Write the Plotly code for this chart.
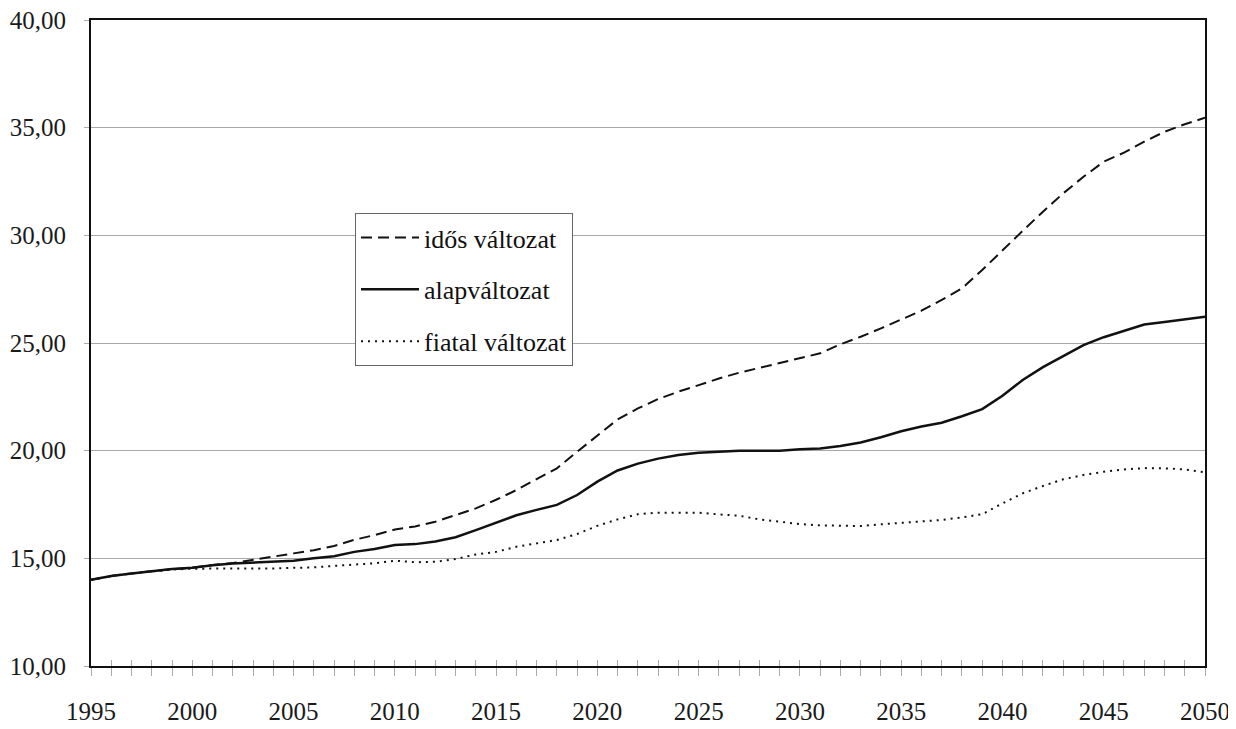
import plotly.graph_objects as go

years = list(range(1995, 2051))

idos = [14.00, 14.18, 14.30, 14.41, 14.50, 14.56, 14.69, 14.78, 14.92, 15.08,
        15.23, 15.38, 15.57, 15.86, 16.08, 16.34, 16.48, 16.70, 17.00, 17.32,
        17.72, 18.17, 18.68, 19.18, 19.95, 20.70, 21.45, 21.96, 22.40, 22.74,
        23.05, 23.35, 23.62, 23.85, 24.05, 24.30, 24.52, 24.94, 25.29, 25.68,
        26.10, 26.50, 27.00, 27.54, 28.39, 29.32, 30.21, 31.10, 31.95, 32.72,
        33.42, 33.84, 34.35, 34.81, 35.16, 35.46]

alap = [14.00, 14.18, 14.30, 14.41, 14.50, 14.56, 14.68, 14.76, 14.80, 14.84,
        14.89, 15.00, 15.10, 15.30, 15.43, 15.62, 15.66, 15.78, 15.98, 16.31,
        16.65, 17.00, 17.25, 17.48, 17.94, 18.56, 19.08, 19.40, 19.63, 19.80,
        19.90, 19.96, 20.00, 20.00, 20.00, 20.06, 20.10, 20.22, 20.38, 20.62,
        20.90, 21.12, 21.30, 21.60, 21.93, 22.55, 23.28, 23.88, 24.40, 24.90,
        25.27, 25.58, 25.86, 25.98, 26.10, 26.22]

fiatal = [14.00, 14.18, 14.30, 14.40, 14.48, 14.52, 14.52, 14.50, 14.50, 14.53,
          14.56, 14.58, 14.65, 14.70, 14.77, 14.89, 14.82, 14.84, 14.97, 15.18,
          15.30, 15.54, 15.69, 15.85, 16.13, 16.51, 16.81, 17.05, 17.12, 17.12,
          17.12, 17.04, 16.98, 16.81, 16.70, 16.59, 16.53, 16.50, 16.50, 16.58,
          16.65, 16.70, 16.78, 16.90, 17.05, 17.55, 18.02, 18.36, 18.67, 18.87,
          19.02, 19.13, 19.19, 19.18, 19.13, 18.99]

series_names = ["idős változat", "alapváltozat", "fiatal változat"]
x_tick_vals = list(range(1995, 2051, 5))
y_tick_vals = [10, 15, 20, 25, 30, 35, 40]

FONT = '"Liberation Serif", "DejaVu Serif", serif'

fig = go.Figure()
fig.add_trace(go.Scatter(x=years, y=idos, name=series_names[0], mode="lines",
                         legendgroup="a",
                         line=dict(color="#111111", width=2, dash="11px,6px")))
fig.add_trace(go.Scatter(x=years, y=alap, name=series_names[1], mode="lines",
                         legendgroup="b",
                         line=dict(color="#111111", width=2.5)))
fig.add_trace(go.Scatter(x=years, y=fiatal, name=series_names[2], mode="lines",
                         legendgroup="c",
                         line=dict(color="#111111", width=2, dash="2px,5px")))
# invisible trace on overlay axis for inside ticks
fig.add_trace(go.Scatter(x=[1995, 2050], y=[10, 10], xaxis="x2", mode="lines",
                         line=dict(width=0), showlegend=False, hoverinfo="skip"))

fig.update_layout(
    width=1228, height=721,
    margin=dict(l=83, r=31, t=12, b=63, autoexpand=False),
    paper_bgcolor="white", plot_bgcolor="white",
    separators=", ",
    font=dict(family=FONT, size=25, color="#1a1a1a"),
    showlegend=True,
    legend=dict(x=0.237, y=0.701, xanchor="left", yanchor="top",
                bgcolor="white", bordercolor="#666666", borderwidth=1,
                font=dict(family=FONT, size=26, color="#111111"),
                itemwidth=58, tracegroupgap=15, traceorder="grouped"),
    xaxis=dict(range=[1995, 2050], tickmode="array", tickvals=list(range(1995, 2051)),
               ticktext=[str(y) if y in x_tick_vals else "" for y in range(1995, 2051)],
               ticks="outside", ticklen=8, tickwidth=1, tickcolor="#aaaaaa",
               showgrid=False, zeroline=False, automargin=False,
               ticklabeloverflow="allow",
               showline=True, linecolor="#111111", linewidth=2, mirror=True,
               ticklabelstandoff=14),
    xaxis2=dict(range=[1995, 2050], overlaying="x", tickmode="array",
                tickvals=list(range(1995, 2051)), showticklabels=False,
                ticks="inside", ticklen=6, tickwidth=1, tickcolor="#aaaaaa",
                automargin=False,
                showgrid=False, zeroline=False, showline=False),
    yaxis=dict(range=[10, 40], tickmode="array", tickvals=y_tick_vals,
               tickformat=".2f", ticks="outside", ticklen=5, tickcolor="#aaaaaa",
               showgrid=True, gridcolor="#a8a8a8", gridwidth=1, automargin=False,
               ticklabeloverflow="allow",
               zeroline=False, showline=True, linecolor="#111111", linewidth=2,
               mirror=True, ticklabelstandoff=13),
)

fig.write_html("out.html")
